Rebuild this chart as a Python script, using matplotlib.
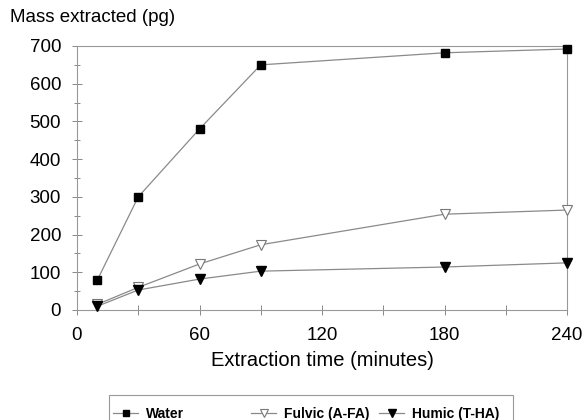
import matplotlib
matplotlib.use("Agg")
import matplotlib.pyplot as plt
from matplotlib.patches import Rectangle
from matplotlib.ticker import MultipleLocator

plt.rcParams['font.family'] = ['Liberation Sans', 'DejaVu Sans']

time_min = [10, 30, 60, 90, 180, 240]
water = [80, 300, 480, 650, 682, 692]
fulvic = [15, 60, 122, 173, 254, 265]
humic = [10, 53, 82, 103, 114, 125]

x_ticks = [0, 60, 120, 180, 240]
y_ticks = [0, 100, 200, 300, 400, 500, 600, 700]

W, H = 582, 420
fig = plt.figure(figsize=(W / 100, H / 100), dpi=100)
ax = fig.add_axes([77 / W, 1 - 310 / H, (567 - 77) / W, (310 - 46) / H])

line_c = '#8a8a8a'
ax.plot(time_min, water, color=line_c, lw=0.9, marker='s', ms=6,
        mfc='black', mec='black', label='Water', zorder=3, clip_on=False)
ax.plot(time_min, fulvic, color=line_c, lw=0.9, marker='v', ms=7.5,
        mfc='white', mec='#777777', mew=0.8, label='Fulvic (A-FA)', zorder=3,
        clip_on=False)
ax.plot(time_min, humic, color=line_c, lw=0.9, marker='v', ms=7.5,
        mfc='black', mec='black', label='Humic (T-HA)', zorder=3, clip_on=False)

ax.set_xlim(0, 240)
ax.set_ylim(0, 700)
ax.set_xticks(x_ticks)
ax.set_yticks(y_ticks)
ax.xaxis.set_minor_locator(MultipleLocator(30))
ax.yaxis.set_minor_locator(MultipleLocator(50))
for s in ax.spines.values():
    s.set_color('#999999')
    s.set_linewidth(0.8)
ax.tick_params(axis='both', which='major', direction='inout', length=7,
               width=0.7, color='#888888', labelsize=13.5)
ax.tick_params(axis='y', which='major', pad=8)
ax.tick_params(axis='x', which='major', pad=9)
ax.tick_params(axis='both', which='minor', direction='inout', length=5,
               width=0.7, color='#888888')
ax.tick_params(axis='x', which='minor', length=7)
ax.set_xlabel('Extraction time (minutes)', fontsize=14.5, labelpad=5)
fig.text(10 / W, 1 - 18 / H, 'Mass extracted (pg)', fontsize=13.5,
         ha='left', va='center')

# legend frame (cut off at bottom, as in reference)
fig.add_artist(Rectangle((109 / W, -0.05), (513 - 109) / W, 0.05 + (1 - 395 / H),
                         transform=fig.transFigure, fill=False,
                         edgecolor='#999999', lw=0.8))
handles = ax.get_lines()
xs = [113, 251, 379]
for h, x in zip(handles, xs):
    fig.legend([h], [h.get_label()], loc='center left',
               bbox_to_anchor=(x / W, 1 - 414 / H), frameon=False,
               prop={'weight': 'bold', 'size': 10}, handlelength=1.8,
               handletextpad=0.6, borderpad=0, borderaxespad=0,
               markerscale=0.75)

fig.savefig('out.png', dpi=100)
